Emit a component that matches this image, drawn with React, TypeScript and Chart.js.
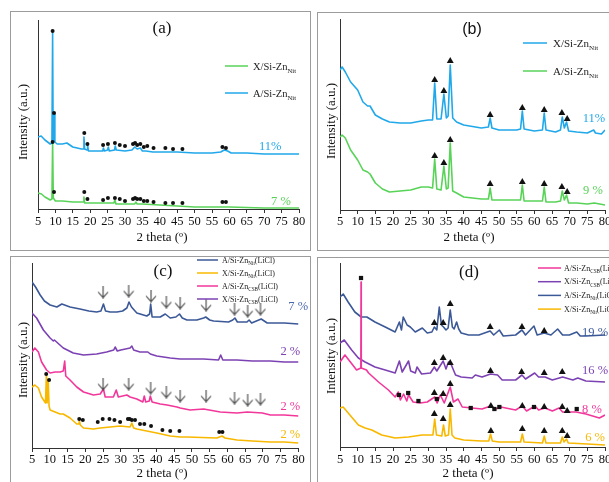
import React, { useEffect, useRef } from "react";
import { Chart, registerables } from "chart.js";
Chart.register(...registerables);

type P = [number, number];

const SERIF = '"Liberation Serif", "Times New Roman", serif';
const SANS = '"Liberation Sans", Arial, sans-serif';

const TWO_THETA_MIN = 5;
const TWO_THETA_MAX = 80;
const TWO_THETA_STEP = 5;

// ---------------- Panel (a) ----------------
const A_A_SI_NIT: P[] = [
  [5, 72], [5.9, 73], [7, 69], [8.5, 65], [9.0, 66], [9.2, 176], [9.35, 70], [9.55, 68], [9.7, 95], [9.85, 67],
  [10.5, 65], [12, 65], [13.3, 66], [15, 62], [17.5, 60], [18.05, 60], [18.2, 72], [18.4, 60], [19.1, 59], [19.25, 64],
  [19.5, 58], [21, 58], [23.6, 58], [23.8, 61], [24.1, 58], [25, 59], [25.2, 62], [25.5, 58], [27, 59], [27.2, 63],
  [27.5, 59], [30, 58], [32, 59], [32.8, 62], [33.5, 60], [34.4, 61], [35, 58], [36, 58], [38, 57], [40, 57],
  [45, 57], [50, 56], [55, 56], [57.5, 57], [58.5, 59], [59.5, 58], [60.5, 56], [65, 56], [70, 55], [75, 55], [80, 55],
];
const A_X_SI_NIT: P[] = [
  [5, 16], [6, 15], [7, 12], [8.5, 9], [9.0, 10], [9.2, 66], [9.4, 11], [10, 8], [12, 8], [15, 7],
  [18.05, 7], [18.2, 12], [18.4, 6], [20, 6], [25, 6], [26.8, 6], [27.1, 9], [27.4, 5], [30, 5], [32.8, 5],
  [33.1, 7], [33.5, 5], [35, 5], [40, 4], [45, 3], [50, 2], [60, 2], [70, 1], [80, 1],
];
const A_DOTS_A: P[] = [
  [9.2, 178], [9.6, 96], [18.3, 76], [19.2, 65], [23.7, 64], [25.1, 65], [27.1, 66], [28.5, 64], [30, 63],
  [32.3, 65], [32.9, 66], [33.5, 64], [34.4, 65], [35.4, 62], [36.4, 63], [38.2, 61], [41.6, 61], [43.8, 60],
  [46.5, 60], [58, 62], [59, 61],
];
const A_DOTS_X: P[] = [
  [9.2, 67], [9.6, 17], [18.3, 17], [19.2, 10], [23.7, 9], [25.1, 11], [27.1, 11], [28.5, 10], [30, 8],
  [32.3, 10], [32.9, 11], [33.5, 10], [34.4, 10], [35.4, 8], [36.4, 8], [38.2, 7], [41.6, 6], [43.8, 6],
  [46.5, 6], [58, 7], [59, 7],
];

// ---------------- Panel (b) ----------------
const B_X_SI_NIT: P[] = [
  [5, 140], [5.6, 143], [6.5, 138], [8, 128], [10, 120], [11.5, 108], [12.8, 104], [13.5, 104], [15, 95], [17, 91],
  [19, 88], [22, 87], [25, 87], [28, 89], [30, 90], [31.2, 90], [31.8, 127], [32.4, 91], [33.6, 91], [34.4, 116],
  [35.1, 92], [35.6, 94], [36.2, 145], [36.9, 92], [38, 88], [40, 85], [45, 82], [47, 83], [47.5, 92], [48, 82],
  [50, 80], [55, 80], [56.1, 81], [56.6, 99], [57.1, 81], [60, 79], [62.3, 80], [62.8, 97], [63.3, 80], [66, 78],
  [67.4, 80], [67.9, 93], [68.5, 82], [69.1, 88], [69.7, 79], [72, 78], [75, 77], [76.8, 80], [77.3, 77], [79, 76], [80, 80],
];
const B_A_SI_NIT: P[] = [
  [5, 73], [5.6, 75], [6.5, 72], [8, 60], [10, 50], [11.5, 40], [12.8, 38], [13.5, 36], [15, 27], [17, 21],
  [19, 18], [22, 19], [25, 20], [28, 23], [30, 23], [31.2, 22], [31.8, 51], [32.4, 21], [33.6, 20], [34.4, 44],
  [35.1, 21], [35.6, 22], [36.2, 67], [36.9, 19], [38, 17], [40, 13], [45, 11], [47, 11], [47.5, 22], [48, 10],
  [50, 10], [55, 10], [56.1, 10], [56.6, 25], [57.1, 9], [60, 9], [62.3, 9], [62.8, 23], [63.3, 8], [66, 8],
  [67.4, 9], [67.9, 19], [68.5, 10], [69.1, 15], [69.7, 7], [72, 7], [75, 6], [77, 7], [80, 5],
];
const B_TRI_X: P[] = [[31.8, 130], [34.4, 119], [36.2, 149], [47.5, 95], [56.6, 102], [62.8, 100], [67.8, 97], [69.3, 91]];
const B_TRI_A: P[] = [[31.8, 54], [34.4, 47], [36.2, 70], [47.5, 26], [56.6, 28], [62.8, 26], [67.8, 23], [69.3, 18]];

// ---------------- Panel (c) ----------------
const C_A_NIT_LICL: P[] = [
  [5, 166], [6, 161], [7.3, 153], [8.5, 147], [10.1, 143], [12, 141], [13.4, 144], [15.7, 141], [18.5, 139], [21, 137],
  [23.2, 136], [24.4, 137], [25.1, 144], [25.7, 137], [27, 136], [28.9, 136], [30.5, 137], [31.7, 140], [32.3, 146],
  [33, 141], [34.5, 135], [37.3, 132], [38.1, 134], [38.4, 144], [38.8, 131], [41.1, 131], [42.5, 134], [43.9, 130],
  [45.5, 131], [46.5, 134], [47.3, 130], [48.6, 128], [51.4, 128], [53.3, 130], [53.9, 131], [55, 128], [56.1, 127],
  [60.3, 126], [61.5, 128], [62.1, 130], [62.8, 126], [65.5, 126], [66.1, 128], [66.8, 125], [69.5, 129], [71.2, 125],
  [76, 125], [80, 124],
];
const C_X_CSB_LICL: P[] = [
  [5, 135], [6.3, 130], [8.2, 118], [10.1, 110], [11, 107], [11.3, 108], [13.8, 100], [16.6, 95], [19.5, 93], [23.2, 94],
  [26, 96], [28, 98], [28.4, 101], [29, 97], [30, 98], [32.6, 100], [33.1, 102], [33.6, 98], [35.4, 96], [37.6, 96],
  [38.3, 94], [40.1, 92], [43.9, 90], [46.7, 89], [50, 89], [53.3, 89], [57.5, 88], [58.1, 93], [58.7, 88], [62.7, 88],
  [67, 87], [72.1, 87], [76, 86], [80, 86],
];
const C_A_CSB_LICL: P[] = [
  [5, 96], [5.8, 100], [6.8, 96], [7.7, 86], [9.1, 78], [10.1, 75], [11.5, 76], [12.9, 76], [13.8, 77], [14.2, 87],
  [14.5, 72], [15.7, 68], [17.6, 61], [19.5, 56], [22.3, 53], [24.2, 54], [25.1, 59], [25.6, 51], [27.9, 51], [28.7, 58],
  [29.3, 51], [31.7, 53], [32.6, 51], [34.5, 49], [36.2, 46], [36.6, 52], [37, 46], [38, 47], [38.3, 52], [38.8, 46],
  [41.1, 44], [43, 43], [45.8, 41], [46.7, 40], [49.5, 38], [53.3, 39], [58, 36], [62.7, 35], [65.6, 36], [69.8, 35],
  [72.1, 33], [76, 33], [80, 32],
];
const C_X_NIT_LICL: P[] = [
  [5, 61], [5.8, 63], [6.8, 60], [7.7, 51], [8.8, 45], [9.05, 74], [9.25, 45], [9.55, 68], [9.8, 42], [10.1, 38],
  [11.5, 36], [12.9, 34], [13.8, 34], [15.7, 30], [17.6, 24], [18.2, 24], [18.35, 27], [18.6, 23], [19.5, 20], [22.3, 19],
  [24.2, 20], [27, 21], [29.8, 22], [32.6, 21], [33.1, 25], [33.6, 20], [34.5, 19], [37.3, 17], [40.1, 15], [43.9, 12],
  [46.7, 11], [48.6, 11], [57, 10], [58.5, 12], [59.3, 10], [62.7, 8], [67, 7], [72.1, 6], [76, 6], [80, 5],
];
const C_ARROWS_A_NIT: P[] = [[25, 156], [32.2, 157], [38.5, 152], [42.8, 146], [46.7, 145], [54, 143], [62, 139], [65.7, 137], [69.3, 139]];
const C_ARROWS_A_CSB: P[] = [[25, 64], [32.2, 64], [38.4, 60], [42.8, 56], [46.7, 52], [54, 52], [62, 50], [65.7, 48], [69.3, 49]];
const C_DOTS_X_NIT: P[] = [
  [9.0, 74], [9.8, 68], [18.3, 29], [19.3, 28], [23.5, 26], [24.9, 29], [26.8, 29], [28.2, 28], [29.8, 26], [32.0, 29],
  [32.5, 29], [33.1, 28], [34.0, 28], [35.4, 24], [36.6, 24], [38.5, 22], [41.7, 18], [43.9, 17], [46.5, 17], [57.7, 16], [58.6, 16],
];

// ---------------- Panel (d) ----------------
const D_A_NIT_LICL: P[] = [
  [5, 150], [5.9, 153], [7.3, 145], [9.2, 135], [11, 130], [12.6, 130], [14.9, 125], [17.8, 120], [20.6, 115], [21.8, 125],
  [22.4, 117], [22.9, 130], [24, 122], [24.9, 120], [26.3, 115], [28.3, 119], [29.7, 114], [31, 115], [31.7, 120], [32.4, 117],
  [33.1, 140], [33.7, 122], [34.3, 120], [35, 117], [35.6, 119], [36.2, 137], [36.8, 120], [37.3, 118], [38, 125], [38.6, 118],
  [39.3, 114], [41.4, 112], [44.3, 112], [47.5, 116], [48.5, 112], [50.1, 117], [51.2, 111], [54.7, 112], [56.5, 117], [57.5, 112],
  [59.9, 121], [60.8, 112], [62.8, 114], [64.7, 112], [66.6, 118], [68, 112], [69.9, 112], [72, 115], [73, 111], [74.6, 111], [80, 112],
];
const D_X_CSB_LICL: P[] = [
  [5, 104], [6.2, 107], [8.3, 97], [10.2, 89], [12.1, 85], [14.9, 80], [17.8, 77], [20.6, 74], [21.8, 86], [22.6, 75],
  [24.4, 86], [25, 76], [26.3, 74], [26.8, 80], [28.1, 73], [30.6, 74], [31.7, 80], [32.4, 76], [34.2, 86], [35, 78],
  [35.7, 85], [36.4, 83], [37.7, 72], [39.3, 70], [42.4, 69], [43.3, 72], [45.2, 70], [47.6, 73], [49.6, 72], [50.9, 67],
  [54.7, 67], [56.5, 72], [57.5, 68], [60.1, 74], [61.2, 70], [63, 70], [65.1, 67], [68, 70], [70.9, 67], [72.3, 69],
  [74.6, 66], [80, 65],
];
const D_A_CSB_LICL: P[] = [
  [5, 85], [6.4, 92], [7.5, 87], [9.7, 77], [10.9, 79], [10.96, 165], [11.02, 79], [12.5, 77], [13.1, 74], [15.9, 65],
  [18.7, 57], [20.6, 50], [21.5, 55], [22.1, 47], [23, 53], [23.9, 46], [24.4, 52], [25.7, 45], [27.7, 44], [29.7, 45],
  [31.8, 50], [32.5, 44], [33.4, 52], [34.5, 44], [36.2, 60], [37.1, 45], [38.4, 48], [39.6, 40], [42.4, 39], [45.2, 38],
  [47.6, 41], [49, 38], [50.5, 40], [54.7, 37], [56.6, 41], [57.8, 36], [60.2, 41], [61.2, 37], [63, 39], [65.1, 36],
  [67, 39], [68, 35], [71.8, 35], [74.6, 33], [78.4, 29], [80, 32],
];
const D_X_NIT_LICL: P[] = [
  [5, 39], [5.9, 40], [7.8, 32], [10.2, 22], [12.1, 19], [14, 17], [16.8, 12], [20.6, 9], [24.4, 10], [28.2, 12],
  [31.3, 12], [31.8, 28], [32.3, 12], [33.8, 11], [34.3, 22], [34.8, 11], [35.7, 12], [36.2, 38], [36.7, 12], [37.5, 9],
  [40, 7], [45, 6], [47.1, 6], [47.6, 13], [48.1, 6], [50, 5], [56.1, 5], [56.6, 13], [57.1, 5], [62.3, 4],
  [62.8, 11], [63.3, 4], [67.4, 4], [67.9, 10], [68.4, 5], [69.1, 8], [69.6, 4], [75, 3], [80, 2],
];
const D_TRI_A_NIT: P[] = [[31.7, 124], [34.2, 124], [36.2, 143], [47.5, 120], [56.5, 120], [62.8, 116]];
const D_TRI_X_CSB: P[] = [[31.7, 84], [34.2, 89], [36.2, 84], [47.6, 76], [56.4, 75], [62.8, 74], [67.9, 75]];
const D_TRI_A_CSB: P[] = [[31.7, 54], [34.2, 53], [36.2, 63], [47.7, 41], [56.6, 41], [62.8, 40], [67.9, 40], [69.3, 36]];
const D_SQ_A_CSB: P[] = [[10.95, 169], [21.7, 52], [24.3, 54], [27.2, 46], [32.4, 48], [42, 39], [48.7, 38], [50.1, 40], [59.9, 40], [72, 38]];
const D_TRI_X_NIT: P[] = [[31.7, 33], [34.2, 28], [36.2, 42], [47.7, 16], [56.6, 18], [62.8, 16], [67.9, 16], [69.3, 11]];

// ---------------- styling ----------------
const C = {
  sky: "#21a8ea",
  green: "#58d358",
  navy: "#3b5897",
  gold: "#f8b800",
  pink: "#f2379b",
  purple: "#7c42b3",
};

type Part = { t: string; sub?: boolean };
type LegendItem = { parts: Part[]; color: string };
type Note = { text: string; at: P; color: string };
type Decor = {
  letter: { text: string; x: number; y: number; font: string };
  xTitle: { x: number; y: number };
  yTitle: { x: number; y: number };
  legend: { items: LegendItem[]; x0: number; x1: number; tx: number; y0: number; dy: number; size: number };
  notes: Note[];
};

function decorPlugin(d: Decor) {
  return {
    id: "decor",
    afterDraw(chart: any) {
      const ctx = chart.ctx as CanvasRenderingContext2D;
      const xs = chart.scales.x;
      const ys = chart.scales.y;
      ctx.save();
      ctx.fillStyle = "#111";
      ctx.textAlign = "center";
      ctx.textBaseline = "middle";
      ctx.font = d.letter.font;
      ctx.fillText(d.letter.text, d.letter.x, d.letter.y);
      ctx.font = `13px ${SERIF}`;
      ctx.fillText("2 theta (º)", d.xTitle.x, d.xTitle.y);
      ctx.save();
      ctx.translate(d.yTitle.x, d.yTitle.y);
      ctx.rotate(-Math.PI / 2);
      ctx.fillText("Intensity (a.u.)", 0, 0);
      ctx.restore();
      const L = d.legend;
      L.items.forEach((it, i) => {
        const y = L.y0 + i * L.dy;
        ctx.strokeStyle = it.color;
        ctx.lineWidth = 1.5;
        ctx.beginPath();
        ctx.moveTo(L.x0, y);
        ctx.lineTo(L.x1, y);
        ctx.stroke();
        ctx.textAlign = "left";
        ctx.textBaseline = "alphabetic";
        ctx.fillStyle = "#222";
        let cx = L.tx;
        const base = y + L.size * 0.34;
        for (const p of it.parts) {
          const s = p.sub ? L.size * 0.65 : L.size;
          ctx.font = `${s}px ${SERIF}`;
          ctx.fillText(p.t, cx, base + (p.sub ? L.size * 0.28 : 0));
          cx += ctx.measureText(p.t).width;
        }
      });
      ctx.textAlign = "center";
      ctx.textBaseline = "middle";
      ctx.font = `12.5px ${SERIF}`;
      d.notes.forEach((n) => {
        ctx.fillStyle = n.color;
        ctx.fillText(n.text, xs.getPixelForValue(n.at[0]), ys.getPixelForValue(n.at[1]));
      });
      ctx.restore();
    },
  };
}

const toXY = (pts: P[]) => pts.map(([x, y]) => ({ x, y }));
const line = (pts: P[], color: string) => ({
  data: toXY(pts),
  showLine: true,
  borderColor: color,
  backgroundColor: color,
  borderWidth: 1.6,
  borderJoinStyle: "round",
  pointRadius: 0,
  pointHoverRadius: 0,
  tension: 0,
});
const marks = (pts: P[], style: any, r: number) => ({
  data: toXY(pts),
  showLine: false,
  pointStyle: style,
  pointRadius: r,
  pointHoverRadius: r,
  pointBackgroundColor: "#111",
  pointBorderColor: "#111",
  pointBorderWidth: 0,
});

type Geo = { padTop: number; padRight: number; yWidth: number; xHeight: number; yMax: number; tickPad: number };

function makeConfig(geo: Geo, datasets: any[], decor: Decor): any {
  return {
    type: "scatter",
    data: { datasets },
    options: {
      responsive: false,
      animation: false,
      events: [],
      layout: { padding: { left: 0, top: geo.padTop, right: geo.padRight, bottom: 0 } },
      plugins: { legend: { display: false }, tooltip: { enabled: false } },
      scales: {
        x: {
          type: "linear",
          min: TWO_THETA_MIN,
          max: TWO_THETA_MAX,
          ticks: {
            stepSize: TWO_THETA_STEP,
            autoSkip: false,
            maxRotation: 0,
            color: "#111",
            padding: geo.tickPad,
            font: { family: SERIF, size: 12.5 },
          },
          grid: { display: true, drawOnChartArea: false, drawTicks: true, tickLength: 4, color: "#333" },
          border: { display: true, color: "#333", width: 1 },
          afterFit: (s: any) => {
            s.height = geo.xHeight;
          },
        },
        y: {
          type: "linear",
          min: 0,
          max: geo.yMax,
          ticks: { display: false },
          grid: { display: false },
          border: { display: true, color: "#333", width: 1 },
          afterFit: (s: any) => {
            s.width = geo.yWidth;
          },
        },
      },
    },
    plugins: [decorPlugin(decor)],
  };
}

function makeArrow(): HTMLCanvasElement {
  const c = document.createElement("canvas");
  c.width = 12;
  c.height = 13;
  const g = c.getContext("2d")!;
  g.strokeStyle = "#444";
  g.lineWidth = 1.1;
  g.beginPath();
  g.moveTo(6, 0);
  g.lineTo(6, 12);
  g.moveTo(1, 6.5);
  g.lineTo(6, 12.2);
  g.lineTo(11, 6.5);
  g.stroke();
  return c;
}

const nit = (pre: string, post = ""): Part[] => [{ t: pre }, { t: "Nit", sub: true }, ...(post ? [{ t: post }] : [])];
const csb = (pre: string, post = ""): Part[] => [{ t: pre }, { t: "CSB", sub: true }, ...(post ? [{ t: post }] : [])];

function buildA() {
  return makeConfig(
    { padTop: 9, padRight: 12, yWidth: 28, xHeight: 42, yMax: 189, tickPad: 1.5 },
    [marks(A_DOTS_A, "circle", 2), marks(A_DOTS_X, "circle", 2), line(A_A_SI_NIT, C.sky), line(A_X_SI_NIT, C.green)],
    {
      letter: { text: "(a)", x: 152, y: 18, font: `17px ${SERIF}` },
      xTitle: { x: 152, y: 227 },
      yTitle: { x: 14, y: 111 },
      legend: {
        items: [
          { parts: nit("X/Si-Zn"), color: C.green },
          { parts: nit("A/Si-Zn"), color: C.sky },
        ],
        x0: 215, x1: 238, tx: 243, y0: 55, dy: 27, size: 10.5,
      },
      notes: [
        { text: "11%", at: [71.7, 62], color: C.sky },
        { text: "7 %", at: [74.8, 7], color: C.green },
      ],
    }
  );
}

function buildB() {
  return makeConfig(
    { padTop: 7, padRight: 12, yWidth: 23, xHeight: 41, yMax: 191, tickPad: 0.5 },
    [marks(B_TRI_X, "triangle", 4), marks(B_TRI_A, "triangle", 4), line(B_X_SI_NIT, C.sky), line(B_A_SI_NIT, C.green)],
    {
      letter: { text: "(b)", x: 155, y: 18, font: `16px ${SANS}` },
      xTitle: { x: 152, y: 226 },
      yTitle: { x: 15, y: 109 },
      legend: {
        items: [
          { parts: nit("X/Si-Zn"), color: C.sky },
          { parts: nit("A/Si-Zn"), color: C.green },
        ],
        x0: 206, x1: 230, tx: 236, y0: 31, dy: 28, size: 11,
      },
      notes: [
        { text: "11%", at: [76.9, 91], color: C.sky },
        { text: "9 %", at: [76.6, 19], color: C.green },
      ],
    }
  );
}

function buildC() {
  const arrow = makeArrow();
  return makeConfig(
    { padTop: 7, padRight: 12.5, yWidth: 22, xHeight: 48, yMax: 185, tickPad: 0.5 },
    [
      marks(C_DOTS_X_NIT, "circle", 2),
      marks(C_ARROWS_A_NIT, arrow, 6),
      marks(C_ARROWS_A_CSB, arrow, 6),
      line(C_X_NIT_LICL, C.gold),
      line(C_A_CSB_LICL, C.pink),
      line(C_X_CSB_LICL, C.purple),
      line(C_A_NIT_LICL, C.navy),
    ],
    {
      letter: { text: "(c)", x: 153, y: 16, font: `17px ${SERIF}` },
      xTitle: { x: 152, y: 218 },
      yTitle: { x: 14, y: 104 },
      legend: {
        items: [
          { parts: nit("A/Si-Zn", "(LiCl)"), color: C.navy },
          { parts: nit("X/Si-Zn", "(LiCl)"), color: C.gold },
          { parts: csb("A/Si-Zn", "(LiCl)"), color: C.pink },
          { parts: csb("X/Si-Zn", "(LiCl)"), color: C.purple },
        ],
        x0: 187, x1: 208, tx: 212, y0: 4, dy: 13, size: 8,
      },
      notes: [
        { text: "7 %", at: [79.9, 141], color: "#4a68b0" },
        { text: "2 %", at: [77.7, 96], color: C.purple },
        { text: "2 %", at: [77.7, 41], color: C.pink },
        { text: "2 %", at: [77.7, 13], color: C.gold },
      ],
    }
  );
}

function buildD() {
  return makeConfig(
    { padTop: 6, padRight: 12, yWidth: 23, xHeight: 50, yMax: 184, tickPad: 1.5 },
    [
      marks(D_SQ_A_CSB, "rect", 3),
      marks(D_TRI_A_NIT, "triangle", 4),
      marks(D_TRI_X_CSB, "triangle", 4),
      marks(D_TRI_A_CSB, "triangle", 4),
      marks(D_TRI_X_NIT, "triangle", 4),
      line(D_A_CSB_LICL, C.pink),
      line(D_X_NIT_LICL, C.gold),
      line(D_X_CSB_LICL, C.purple),
      line(D_A_NIT_LICL, C.navy),
    ],
    {
      letter: { text: "(d)", x: 152, y: 16, font: `17px ${SERIF}` },
      xTitle: { x: 151, y: 217 },
      yTitle: { x: 15, y: 99 },
      legend: {
        items: [
          { parts: csb("A/Si-Zn", "(LiCl)"), color: C.pink },
          { parts: csb("X/Si-Zn", "(LiCl)"), color: C.purple },
          { parts: nit("A/Si-Zn", "(LiCl)"), color: C.navy },
          { parts: nit("X/Si-Zn", "(LiCl)"), color: C.gold },
        ],
        x0: 221, x1: 244, tx: 247, y0: 11, dy: 13.7, size: 8,
      },
      notes: [
        { text: "19 %", at: [77.2, 114], color: C.navy },
        { text: "16 %", at: [77.2, 76], color: C.purple },
        { text: "8 %", at: [76.3, 37], color: C.pink },
        { text: "6 %", at: [77.2, 9], color: C.gold },
      ],
    }
  );
}

function Panel(props: { left: number; top: number; width: number; height: number; build: () => any }) {
  const ref = useRef<HTMLCanvasElement>(null);
  useEffect(() => {
    const chart = new Chart(ref.current as HTMLCanvasElement, props.build());
    return () => chart.destroy();
  }, []);
  const { left, top, width, height } = props;
  return (
    <>
      <div
        style={{
          position: "absolute",
          left,
          top,
          width,
          height,
          boxSizing: "border-box",
          border: "1.5px solid #9c9c9c",
        }}
      />
      <canvas
        ref={ref}
        width={width}
        height={height}
        style={{ position: "absolute", left, top, width, height }}
      />
    </>
  );
}

export default function App() {
  return (
    <div
      style={{
        position: "fixed",
        left: 0,
        top: 0,
        width: 609,
        height: 482,
        overflow: "hidden",
        background: "#fff",
      }}
    >
      <Panel left={10} top={11} width={301} height={240} build={buildA} />
      <Panel left={317} top={12} width={300} height={239} build={buildB} />
      <Panel left={10} top={256} width={301} height={240} build={buildC} />
      <Panel left={317} top={257} width={300} height={240} build={buildD} />
    </div>
  );
}
